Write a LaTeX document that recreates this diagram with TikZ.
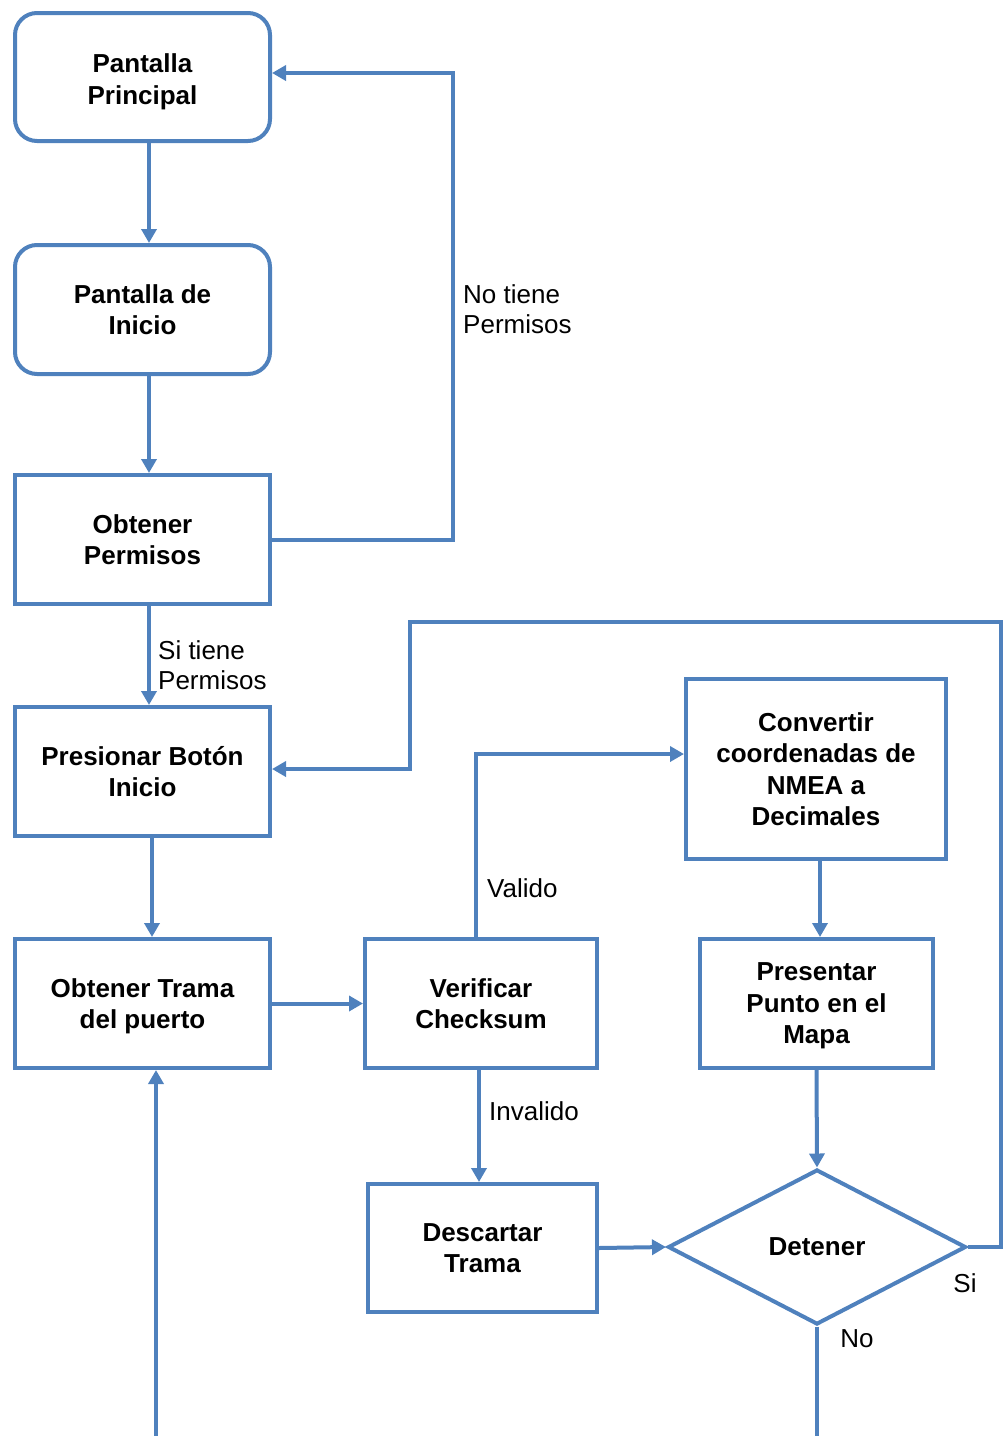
\documentclass[tikz,border=0pt]{standalone}
\usepackage{fontspec}
\setmainfont{Liberation Sans}
\usetikzlibrary{shapes.geometric,arrows.meta}
\definecolor{flow}{HTML}{4F81BD}

\begin{document}
\begin{tikzpicture}[x=1pt,y=-1pt,
  box/.style={draw=flow, line width=4pt, align=center, inner sep=0pt,
    font=\fontsize{26}{31.5}\selectfont\bfseries},
  rbox/.style={box, rounded corners=22pt},
  lab/.style={font=\fontsize{26}{30.5}\selectfont, inner sep=0pt, align=left},
  link/.style={draw=flow, line width=4pt, -{Triangle[length=14pt,width=15pt]}},
  wire/.style={draw=flow, line width=4pt}]

\useasboundingbox (0,0) rectangle (1003,1436);

% process boxes (descenders on the last line are smashed so the text sits centred)
\node[rbox, minimum width=255pt, minimum height=128pt] (pp) at (142.5,77) {\rule{0pt}{23pt}Pantalla\\\smash{Principal}};
\node[rbox, minimum width=255pt, minimum height=129pt] (pi) at (142.5,309.5) {Pantalla de\\Inicio};
\node[box, minimum width=255pt, minimum height=129pt] (op) at (142.5,539.5) {Obtener\\Permisos};
\node[box, minimum width=255pt, minimum height=129pt] (pb) at (142.5,771.5) {Presionar Botón\\Inicio};
\node[box, minimum width=255pt, minimum height=129pt] (ot) at (142.5,1003.5) {Obtener Trama\\\smash{del puerto}};
\node[box, minimum width=232pt, minimum height=129pt] (vc) at (481,1003.5) {Verificar\\Checksum};
\node[box, minimum width=229pt, minimum height=128pt] (dt) at (482.5,1248) {Descartar\\Trama};
\node[box, minimum width=260pt, minimum height=180pt] (cc) at (816,769) {Convertir\\coordenadas de\\NMEA a\\Decimales};
\node[box, minimum width=233pt, minimum height=129pt] (pm) at (816.5,1003.5) {Presentar\\Punto en el\\\smash{Mapa}};
\node[box, diamond, minimum width=298pt, minimum height=155pt] (dn) at (817,1247) {Detener};

% loose ends at the lower edge
\coordinate (noend) at (817,1436);
\coordinate (loopin) at (156,1436);

% connectors
\draw[link] ([xshift=6.5pt]pp.south) -- ([xshift=6.5pt]pi.north);
\draw[link] ([xshift=6.5pt]pi.south) -- ([xshift=6.5pt]op.north);
\draw[link] (op.east) -- ++(181,0) |- ([yshift=4pt]pp.east);
\draw[link] ([xshift=6.5pt]op.south) -- ([xshift=6.5pt]pb.north);
\draw[link] (dn.east) -- (1001,1247) |- (410,622) |- ([yshift=2.5pt]pb.east);
\draw[link] ([xshift=9.5pt]pb.south) -- ([xshift=9.5pt]ot.north);
\draw[link] (ot.east) -- (vc.west);
\draw[link] ([xshift=-5pt]vc.north) |- ([yshift=15pt]cc.west);
\draw[link] ([xshift=-2pt]vc.south) -- ([xshift=-3.5pt]dt.north);
\draw[link] ([xshift=4pt]cc.south) -- ([xshift=3.5pt]pm.north);
\draw[link] (pm.south) -- (dn.north);
\draw[link] (dt.east) -- (dn.west);
\draw[wire] (dn.south) -- (noend);
\draw[link] (loopin) -- (loopin |- ot.south);

% connector labels
\node[lab, anchor=west] (lno) at (463,309) {No tiene\\Permisos};
\node[lab, anchor=west] (lsi) at (158,665) {Si tiene\\Permisos};
\node[lab, anchor=west] (lval) at (487,888) {Valido};
\node[lab, anchor=west] (linv) at (489,1111) {Invalido};
\node[lab] (lsi2) at (965,1283) {Si};
\node[lab] (lno2) at (857,1339) {No};
\end{tikzpicture}
\end{document}
